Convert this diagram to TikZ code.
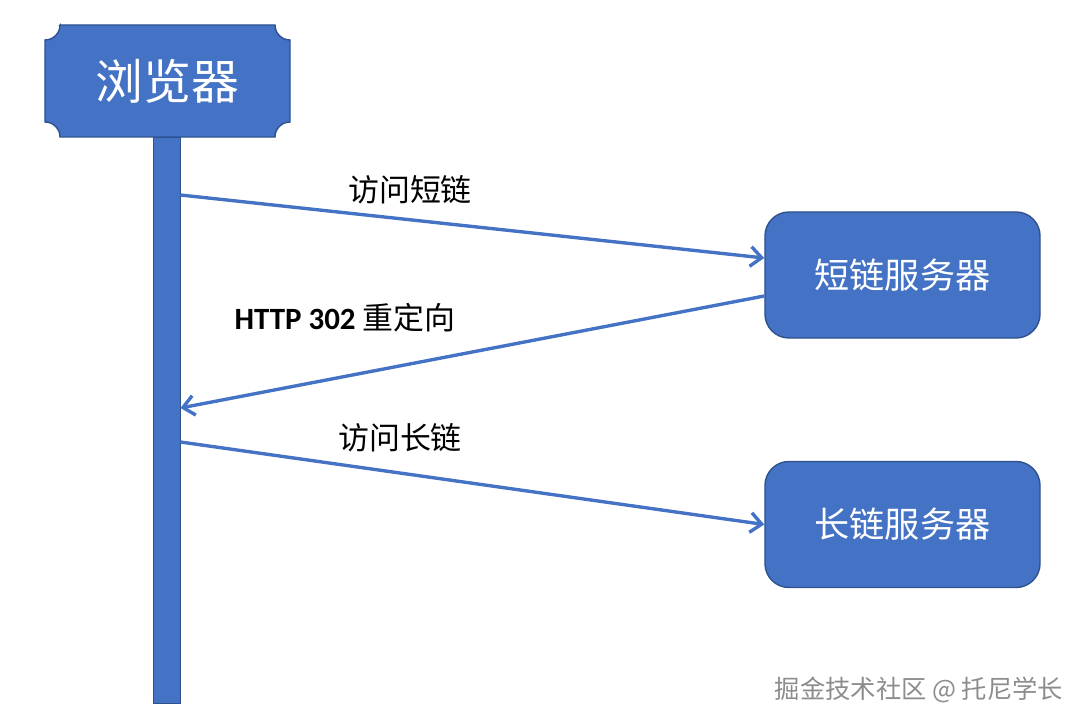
\documentclass[tikz,border=0pt]{standalone}
\usepackage{fontspec}
\setmainfont{Carlito}
\newfontfamily\cjk{Noto Sans CJK SC}
\usetikzlibrary{arrows.meta}
\definecolor{officeblue}{HTML}{4472C4}
\definecolor{officeedge}{HTML}{2F528F}

\begin{document}
\begin{tikzpicture}[x=0.025cm, y=0.025cm]
    % Styles
    \tikzstyle{server} = [rectangle, draw=officeedge, line width=1pt, fill=officeblue,
        rounded corners=0.6cm, minimum width=6.875cm, minimum height=3.15cm,
        text=white, font=\cjk\fontsize{25}{30}\selectfont]
    \tikzstyle{lifeline} = [rectangle, draw=officeedge, line width=0.6pt, fill=officeblue,
        minimum width=0.675cm, minimum height=14.15cm, inner sep=0pt]
    \tikzstyle{msg} = [officeblue, line width=2.4pt, -{Straight Barb[length=8pt, width=14pt, line width=2.4pt]}]
    \tikzstyle{msglabel} = [font=\cjk\fontsize{22}{26}\selectfont, text=black]

    \useasboundingbox (0,0) rectangle (1080,726);

    % === Browser head ===
    \draw [draw=officeedge, line width=1pt, fill=officeblue]
        (60,701) -- (275,701) arc[start angle=180, end angle=270, radius=0.375cm]
        -- (290,604) arc[start angle=90, end angle=180, radius=0.375cm]
        -- (60,589) arc[start angle=0, end angle=90, radius=0.375cm]
        -- (45,686) arc[start angle=270, end angle=360, radius=0.375cm] -- cycle;
    \node [text=white, font=\cjk\fontsize{34}{40}\selectfont] (browser) at (167.5,645) {浏览器};

    % Lifeline
    \node [lifeline] (life) at (166.5,306) {};

    % === Servers ===
    \node [server] (short) at (902.5,451) {短链服务器};
    \node [server] (long) at (902.5,201.5) {长链服务器};

    % === Arrows ===
    \coordinate (s1) at (life.east |- 0,531);
    \coordinate (e2) at (life.east |- 0,318);
    \coordinate (s3) at (life.east |- 0,284);
    \draw [msg] (s1) -- ([yshift=0.425cm]short.west);
    \draw [msg] ([yshift=-0.525cm]short.west) -- (e2);
    \draw [msg] (s3) -- (long.west);

    % === Labels ===
    \node [msglabel] (l1) at (410,536) {访问短链};
    \node [msglabel] (l2) at (345,408) {{\fontspec{Carlito}\bfseries HTTP 302} 重定向};
    \node [msglabel] (l3) at (400,288) {访问长链};

    % Watermark
    \node [font=\cjk\fontsize{18}{22}\selectfont, text=black!45] (mark) at (919,36) {掘金技术社区 @ 托尼学长};
\end{tikzpicture}
\end{document}
